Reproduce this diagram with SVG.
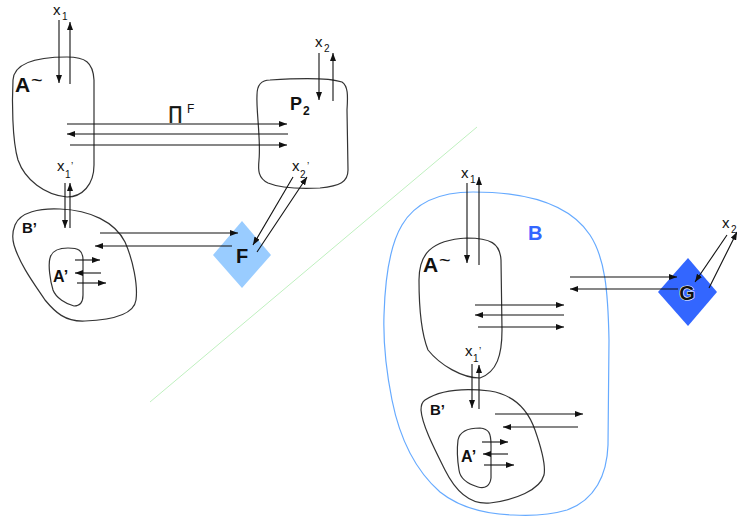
<svg xmlns="http://www.w3.org/2000/svg" width="737" height="518" viewBox="0 0 737 518">
  <style>
    .blob { fill: none; stroke: #333; stroke-width: 1.2; }
    .blue { fill: none; stroke: #66aaff; stroke-width: 1.2; }
    .arr { stroke: #111; stroke-width: 1.1; fill: none; marker-end: url(#ah); }
    .lbl { font-family: "Liberation Sans", Arial, sans-serif; fill: #111; }
    .b { font-weight: bold; }
    .v { font-size: 15px; }
    .s { font-size: 10px; }
    .t { font-size: 20px; }
  </style>
  <defs>
    <marker id="ah" viewBox="0 0 8 6" refX="8" refY="3" markerWidth="8" markerHeight="6" markerUnits="userSpaceOnUse" orient="auto">
      <path d="M0,0 L8,3 L0,6 Z" fill="#111"/>
    </marker>
  </defs>

  <rect width="737" height="518" fill="#fff"/>

  <!-- separator -->
  <line x1="150" y1="402" x2="477" y2="127" stroke="#bff0bf" stroke-width="1"/>

  <!-- left: A~ -->
  <g id="A-left">
    <path class="blob" d="M 67,57 C 85,57 93,62 94,80 L 94,165 C 94,185 82,197 67,197 C 45,195 25,180 18,160 C 12,140 12,100 13,80 C 14,65 30,57 67,57 Z"/>
    <text class="lbl b" x="15" y="92" font-size="21">A</text>
    <text class="lbl t" x="31" y="87">~</text>
  </g>

  <!-- left: P2 -->
  <g id="P2">
    <path class="blob" d="M 270,80 C 300,78 330,78 342,82 C 348,86 348,95 347,110 L 348,170 C 348,182 340,186 320,188 C 300,189 280,188 268,183 C 258,178 258,170 259,160 C 261,140 256,110 257,95 C 257,85 262,80 270,80 Z"/>
    <text class="lbl b" x="290" y="110" font-size="18">P</text>
    <text class="lbl b" x="303" y="115" font-size="12">2</text>
  </g>

  <!-- left: B' -->
  <g id="B-left">
    <path class="blob" d="M 15,225 C 20,212 40,208 60,209 C 90,210 115,222 125,242 C 133,260 138,285 136,300 C 134,315 110,320 85,321 C 65,322 55,312 45,300 C 35,285 20,265 14,245 C 12,238 13,230 15,225 Z"/>
    <text class="lbl b" x="22" y="233" font-size="15">B’</text>
  </g>

  <!-- left: A' -->
  <g id="A-prime-left">
    <path class="blob" d="M 50,258 C 52,250 60,248 68,248 C 78,248 83,250 83,260 L 83,295 C 83,303 80,306 74,306 C 66,304 56,298 53,290 C 50,280 48,265 50,258 Z"/>
    <text class="lbl b" x="53" y="282" font-size="16">A’</text>
  </g>

  <!-- F -->
  <g id="F">
    <polygon points="242,221 271,255 242,288 213,255" fill="#99ccff"/>
    <text class="lbl b" x="242" y="263" font-size="20" text-anchor="middle">F</text>
  </g>

  <!-- right: B -->
  <g id="B">
    <path class="blue" d="M 473,192 C 530,192 570,205 590,235 C 605,258 608,290 609,340 L 608,445 C 607,475 595,500 567,510 C 550,515 530,516 513,515 C 485,514 460,508 440,492 C 415,470 400,440 392,400 C 386,370 383,345 384,315 C 385,280 390,245 402,225 C 415,203 440,192 473,192 Z"/>
    <text class="lbl b" x="528" y="240" font-size="20" style="fill:#3366ff">B</text>
  </g>

  <!-- right: A~ -->
  <g id="A-right">
    <path class="blob" d="M 467,238 C 490,238 500,243 501,260 L 502,330 C 502,355 497,372 480,378 C 462,378 440,365 428,350 C 420,330 419,300 419,280 C 419,255 430,240 467,238 Z"/>
    <text class="lbl b" x="423" y="272" font-size="21">A</text>
    <text class="lbl t" x="439" y="267">~</text>
  </g>

  <!-- right: B' -->
  <g id="B-right">
    <path class="blob" d="M 425,400 C 440,390 465,388 490,391 C 515,395 528,410 535,430 C 542,450 546,465 544,475 C 540,490 515,500 490,503 C 470,505 455,490 445,470 C 435,450 422,425 421,410 C 421,405 422,402 425,400 Z"/>
    <text class="lbl b" x="430" y="415" font-size="15">B’</text>
  </g>

  <!-- right: A' -->
  <g id="A-prime-right">
    <path class="blob" d="M 458,440 C 460,430 470,428 480,428 C 489,429 491,433 491,445 L 491,478 C 490,486 485,489 478,487 C 468,484 460,478 459,470 C 457,458 457,448 458,440 Z"/>
    <text class="lbl b" x="461" y="462" font-size="16">A’</text>
  </g>

  <!-- G -->
  <g id="G">
    <polygon points="688,258 717,292 688,326 658,292" fill="#3366ff"/>
    <text class="lbl b" x="687" y="300" font-size="20" text-anchor="middle" stroke="#fff" stroke-width="1.2" paint-order="stroke">G</text>
  </g>

  <!-- variable labels -->
  <g id="labels">
    <text class="lbl v" x="53" y="15">x</text><text class="lbl s" x="62" y="20">1</text>
    <text class="lbl v" x="315" y="47">x</text><text class="lbl s" x="324" y="52">2</text>
    <text class="lbl v" x="57" y="171">x</text><text class="lbl s" x="65" y="178">1</text><text class="lbl s" x="71" y="170">’</text>
    <text class="lbl v" x="292" y="171">x</text><text class="lbl s" x="300" y="178">2</text><text class="lbl s" x="307" y="170">’</text>
    <text class="lbl" x="168" y="119" font-size="18" stroke="#111" stroke-width="0.6">∏</text><text class="lbl" x="187" y="113" font-size="12">F</text>
    <text class="lbl v" x="461" y="178">x</text><text class="lbl s" x="470" y="183">1</text>
    <text class="lbl v" x="722" y="228">x</text><text class="lbl s" x="731" y="233">2</text>
    <text class="lbl v" x="465" y="356">x</text><text class="lbl s" x="473" y="362">1</text><text class="lbl s" x="479" y="355">’</text>
  </g>

  <!-- connectors -->
  <g id="connectors">
    <line class="arr" x1="59" y1="20" x2="59" y2="83"/>
    <line class="arr" x1="70" y1="84" x2="70" y2="22"/>
    <line class="arr" x1="67" y1="124" x2="287" y2="124"/>
    <line class="arr" x1="288" y1="134" x2="67" y2="134"/>
    <line class="arr" x1="70" y1="145" x2="287" y2="145"/>
    <line class="arr" x1="319" y1="53" x2="319" y2="100"/>
    <line class="arr" x1="333" y1="101" x2="333" y2="53"/>
    <line class="arr" x1="65" y1="183" x2="65" y2="228"/>
    <line class="arr" x1="70" y1="228" x2="70" y2="183"/>
    <line class="arr" x1="100" y1="233" x2="238" y2="233"/>
    <line class="arr" x1="232" y1="246" x2="95" y2="246"/>
    <line class="arr" x1="75" y1="260" x2="100" y2="260"/>
    <line class="arr" x1="101" y1="273" x2="75" y2="273"/>
    <line class="arr" x1="77" y1="283" x2="106" y2="283"/>
    <line class="arr" x1="293" y1="177" x2="253" y2="245"/>
    <line class="arr" x1="257" y1="252" x2="307" y2="177"/>

    <line class="arr" x1="467" y1="183" x2="467" y2="263"/>
    <line class="arr" x1="479" y1="265" x2="479" y2="177"/>
    <line class="arr" x1="475" y1="305" x2="564" y2="305"/>
    <line class="arr" x1="564" y1="315" x2="475" y2="315"/>
    <line class="arr" x1="478" y1="327" x2="564" y2="327"/>
    <line class="arr" x1="570" y1="277" x2="677" y2="277"/>
    <line class="arr" x1="678" y1="289" x2="570" y2="289"/>
    <line class="arr" x1="727" y1="235" x2="695" y2="282"/>
    <line class="arr" x1="709" y1="288" x2="737" y2="232"/>
    <line class="arr" x1="472" y1="364" x2="472" y2="408"/>
    <line class="arr" x1="479" y1="409" x2="479" y2="365"/>
    <line class="arr" x1="495" y1="414" x2="583" y2="414"/>
    <line class="arr" x1="578" y1="427" x2="503" y2="427"/>
    <line class="arr" x1="482" y1="442" x2="508" y2="442"/>
    <line class="arr" x1="508" y1="454" x2="483" y2="454"/>
    <line class="arr" x1="484" y1="465" x2="514" y2="465"/>
  </g>
</svg>
